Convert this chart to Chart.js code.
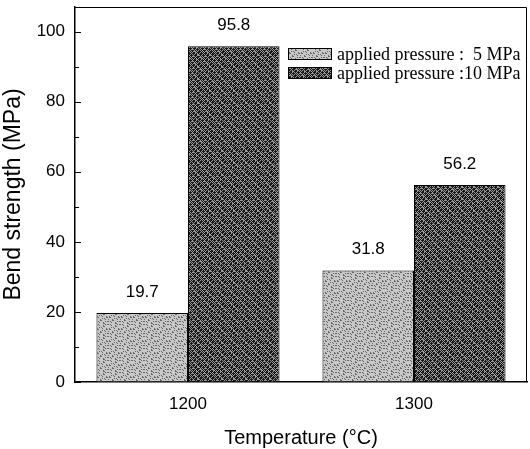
<!DOCTYPE html>
<html>
<head>
<meta charset="utf-8">
<script src="https://cdn.jsdelivr.net/npm/chart.js@4/dist/chart.umd.min.js"></script>
<style>
  html, body { margin: 0; padding: 0; background: #fff; }
  #wrap { width: 530px; height: 449px; position: relative; }
</style>
</head>
<body>
<div id="wrap"><canvas id="chartOne"></canvas></div>
<script>
// data
const categories = ["1200", "1300"];
const pressure5 = [19.7, 31.8];
const pressure10 = [95.8, 56.2];
const seriesLabels = ["applied pressure :  5 MPa", "applied pressure :10 MPa"];
const yMajorStep = 20;
const yMinorStep = 10;

// stippled textures like the scanned print
const makePattern = (base, dots, kind) => {
    const c = document.createElement("canvas");
    c.width = 12; c.height = 12;
    const g = c.getContext("2d");
    g.fillStyle = base;
    g.fillRect(0, 0, 12, 12);
    g.fillStyle = dots;
    for (let y = 0; y < 12; y++) {
        for (let x = 0; x < 12; x++) {
            const h = (x * 7 + y * 11 + x * y * 3) % 9;
            if (kind === "light" && (h === 0 || h === 5)) g.fillRect(x, y, 1, 1);
            if (kind === "dark" && ((x + y) % 4 === 0 || (x - y + 12) % 6 === 0 || h === 2)) g.fillRect(x, y, 1, 1);
        }
    }
    return g.createPattern(c, "repeat");
};
const lightFill = makePattern("#c8c8c8", "#666666", "light");
const darkFill = makePattern("#161616", "#9a9a9a", "dark");

// value labels above bars
const valueLabels = {
    id: "valueLabels",
    afterDatasetsDraw(chart) {
        const ctx = chart.ctx;
        ctx.save();
        ctx.font = "17px 'Liberation Sans', Arial, sans-serif";
        ctx.fillStyle = "#000";
        ctx.textAlign = "center";
        ctx.textBaseline = "middle";
        chart.data.datasets.forEach((ds, i) => {
            chart.getDatasetMeta(i).data.forEach((bar, j) => {
                ctx.fillText(ds.data[j].toFixed(1), bar.x, bar.y - 21);
            });
        });
        ctx.restore();
    }
};

// frame, inward ticks, legend
const decorations = {
    id: "decorations",
    afterDraw(chart) {
        const ctx = chart.ctx;
        const a = chart.chartArea;
        const ys = chart.scales.y;
        ctx.save();
        ctx.strokeStyle = "#000";
        ctx.lineWidth = 1;
        ctx.beginPath();
        ctx.moveTo(a.left, a.top + 0.5);
        ctx.lineTo(a.right - 0.5, a.top + 0.5);
        ctx.lineTo(a.right - 0.5, a.bottom);
        ctx.stroke();

        ctx.beginPath();
        for (let v = 0; v <= 100; v += yMinorStep) {
            const py = Math.round(ys.getPixelForValue(v)) + 0.5;
            const len = v % yMajorStep === 0 ? 6 : 4;
            ctx.moveTo(a.left, py);
            ctx.lineTo(a.left + len, py);
        }
        ctx.stroke();

        const fills = [lightFill, darkFill];
        ctx.font = "18px 'Liberation Serif', 'Times New Roman', serif";
        ctx.textAlign = "left";
        ctx.textBaseline = "middle";
        seriesLabels.forEach((label, i) => {
            const y = 48 + i * 19;
            ctx.fillStyle = fills[i];
            ctx.fillRect(288, y, 44, 12);
            ctx.strokeRect(288.5, y + 0.5, 43, 11);
            ctx.fillStyle = "#000";
            ctx.fillText(label, 337, y + 7);
        });
        ctx.restore();
    }
};

new Chart(document.getElementById("chartOne"), {
    type: "bar",
    data: {
        labels: categories,
        datasets: [{
            label: seriesLabels[0],
            data: pressure5,
            backgroundColor: lightFill,
            borderColor: "#000",
            borderWidth: 1,
            barPercentage: 1,
            categoryPercentage: 0.81
        }, {
            label: seriesLabels[1],
            data: pressure10,
            backgroundColor: darkFill,
            borderColor: "#000",
            borderWidth: 1,
            barPercentage: 1,
            categoryPercentage: 0.81
        }]
    },
    options: {
        responsive: true,
        maintainAspectRatio: false,
        animation: false,
        layout: { padding: { top: 7, right: 3, left: 0, bottom: 0 } },
        plugins: {
            legend: { display: false },
            tooltip: { enabled: false }
        },
        scales: {
            x: {
                grid: { display: false },
                border: { color: "#000", width: 1.5 },
                ticks: { color: "#000", font: { family: "'Liberation Sans', Arial", size: 17 }, padding: 4 },
                title: { display: true, text: "Temperature (°C)", color: "#000", font: { family: "'Liberation Sans', Arial", size: 20 }, padding: { top: 9, bottom: -1 } },
                afterFit: (s) => { s.height = 67; s.paddingLeft = 0; s.paddingRight = 0; }
            },
            y: {
                min: 0,
                max: 107,
                grid: { drawOnChartArea: false, drawTicks: false },
                border: { color: "#000", width: 1.5 },
                ticks: {
                    stepSize: yMinorStep,
                    color: "#000",
                    padding: 10,
                    font: { family: "'Liberation Sans', Arial", size: 17 },
                    callback: (v) => (v % yMajorStep === 0 && v <= 100 ? v : "")
                },
                title: { display: true, text: "Bend strength (MPa)", color: "#000", font: { family: "'Liberation Sans', Arial", size: 23 }, padding: { top: 0, bottom: 0 } },
                afterFit: (s) => { s.width = 75; s.paddingTop = 0; s.paddingBottom = 0; }
            }
        }
    },
    plugins: [valueLabels, decorations]
});
</script>
</body>
</html>
